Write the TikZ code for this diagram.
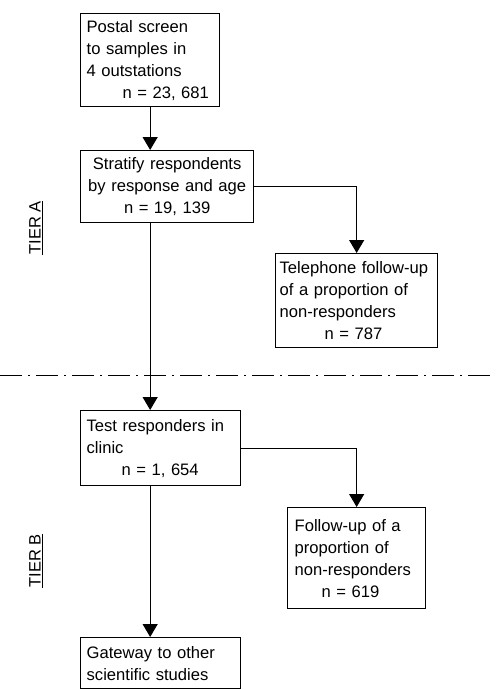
\documentclass[tikz,border=0pt]{standalone}
\usepackage{fontspec}
\setmainfont{Liberation Sans}
\usetikzlibrary{arrows.meta}
\tikzset{
  box/.style={draw, line width=1.3pt, inner xsep=6pt, inner ysep=0pt, align=left, anchor=north west,
    font=\fontsize{16.6}{22}\selectfont},
  arr/.style={line width=1.2pt, -{Triangle[width=15pt,length=13pt]}},
  tier/.style={rotate=90, font=\fontsize{16.5}{18}\selectfont},
  dashdot/.style={line width=1pt, dash pattern=on 22pt off 6pt on 2pt off 6pt}
}
\begin{document}
\begin{tikzpicture}[x=1pt, y=-1pt]
\useasboundingbox (0,0) rectangle (495,690);
\node[box, text width=127pt, minimum height=93pt] (b1) at (80,13)
  {Postal screen\\to samples in\\4 outstations\\\hspace*{36pt}n = 23, 681};
\node[box, inner xsep=3pt, text width=167pt, minimum height=72pt, align=center] (b2) at (80,150)
  {Stratify respondents\\by response and age\\n = 19, 139};
\node[box, inner xsep=4pt, text width=154pt, minimum height=94pt] (b3) at (275,253)
  {Telephone follow-up\\of a proportion of\\non-responders\\\hspace*{45pt}n = 787};
\node[box, text width=148pt, minimum height=75pt] (b4) at (80,410)
  {Test responders in\\clinic\\\hspace*{35pt}n = 1, 654};
\node[box, inner xsep=7pt, text width=124pt, minimum height=101pt] (b5) at (287,507)
  {Follow-up of a\\proportion of\\non-responders\\\hspace*{27pt}n = 619};
\node[box, text width=148pt, minimum height=51pt] (b6) at (80,637)
  {Gateway to other\\scientific studies};
\node[tier] (ta) at (36,228) {\underline{TIER A}};
\node[tier] (tb) at (36,561) {\underline{TIER B}};
\coordinate (dl) at (0,375);
\coordinate (dr) at (495,375);
\draw[dashdot] (dl) -- (dr);
\draw[arr] (b1.south) -- (b1.south |- b2.north);
\draw[arr] (b2.south -| b1.south) -- (b4.north -| b1.south);
\draw[arr] (b4.south -| b1.south) -- (b6.north -| b1.south);
\draw[arr] (b2.east) -| (b3.north);
\draw[arr] (b4.east) -| (b5.north);
\end{tikzpicture}
\end{document}
